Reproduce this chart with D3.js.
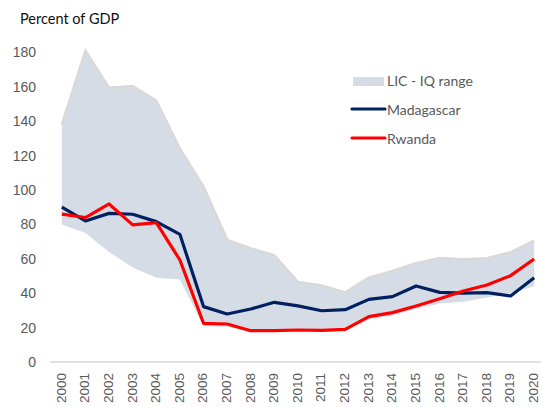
<!DOCTYPE html>
<html>
<head>
<meta charset="utf-8">
<script src="https://cdn.jsdelivr.net/npm/d3@7"></script>
<style>
  body { margin: 0; background: #fff; }
  svg { display: block; font-family: Lato, "Open Sans", sans-serif; }
</style>
</head>
<body>
<div class="chart"></div>
<script>
/* data */
const years = d3.range(2000, 2021).map(String);
const licLow = [80, 75, 64, 55, 49, 48, 21, 20.5, 17.5, 17.5, 18, 18, 18.5, 24.5, 27, 31, 34, 35, 37.5, 40, 44];
const licHigh = [138, 181, 159.5, 160.5, 152, 124, 102, 71, 66, 62, 46.5, 44.5, 40.5, 49, 53, 57.5, 60.5, 59.7, 60.3, 63.8, 70.5];
const madagascar = [90, 82, 86.4, 85.9, 81.6, 74.2, 32.2, 27.9, 30.8, 34.7, 32.6, 29.8, 30.4, 36.4, 38, 44.2, 40.5, 40.1, 40.3, 38.4, 49];
const rwanda = [86, 84, 91.9, 79.7, 81, 59.3, 22.5, 22.1, 18.2, 18.2, 18.6, 18.4, 19, 26.4, 28.7, 32.6, 36.8, 41.3, 44.8, 50.2, 59.9];
const yTicks = [0, 20, 40, 60, 80, 100, 120, 140, 160, 180];

const width = 541, height = 407;
const svg = d3.select(".chart").append("svg")
  .attr("width", width)
  .attr("height", height);

/* scales */
const x = d3.scalePoint().domain(years).range([50, 546]).padding(0.5);
const y = d3.scaleLinear().domain([0, 180]).range([362, 52.4]);

/* IQ range band */
const area = d3.area()
  .x((d, i) => x(years[i]))
  .y0(d => y(d[0]))
  .y1(d => y(d[1]));
const band = licLow.map((v, i) => [v, licHigh[i]]);

svg.append("path")
  .datum(band)
  .attr("d", area)
  .attr("fill", "#d6dce5");

svg.append("path")
  .datum(licHigh)
  .attr("d", d3.line().x((d, i) => x(years[i])).y(d => y(d)))
  .attr("fill", "none")
  .attr("stroke", "#d9d9d9")
  .attr("stroke-width", 2.5);

/* country lines */
const line = d3.line().x((d, i) => x(years[i])).y(d => y(d));
svg.append("path")
  .datum(madagascar)
  .attr("d", line)
  .attr("fill", "none")
  .attr("stroke", "#002060")
  .attr("stroke-width", 3.2)
  .attr("stroke-linejoin", "round");
svg.append("path")
  .datum(rwanda)
  .attr("d", line)
  .attr("fill", "none")
  .attr("stroke", "#ff0000")
  .attr("stroke-width", 3.2)
  .attr("stroke-linejoin", "round");

/* y axis: labels only */
const yAxis = svg.append("g")
  .attr("transform", "translate(36,0)")
  .call(d3.axisLeft(y).tickValues(yTicks).tickSize(0).tickPadding(0));
yAxis.select(".domain").remove();
yAxis.selectAll("text")
  .attr("fill", "#595959")
  .style("font-size", "14px");

/* x axis: baseline and rotated year labels */
const xAxis = svg.append("g")
  .attr("transform", "translate(0,362)")
  .call(d3.axisBottom(x).tickSize(0));
xAxis.select(".domain")
  .attr("stroke", "#d9d9d9")
  .attr("stroke-width", 1.3)
  .attr("d", "M50,0H546");
xAxis.selectAll("text")
  .attr("fill", "#595959")
  .style("font-size", "13.5px")
  .attr("text-anchor", "end")
  .attr("transform", "rotate(-90)")
  .attr("x", -11)
  .attr("y", 0)
  .attr("dy", "0.25em");

/* title */
svg.append("text")
  .attr("x", 20)
  .attr("y", 24)
  .attr("fill", "#111")
  .style("font-size", "14.5px")
  .text("Percent of GDP");

/* legend */
const legend = svg.append("g").attr("transform", "translate(352,0)");
legend.append("rect")
  .attr("x", 1).attr("y", 77).attr("width", 31).attr("height", 9)
  .attr("fill", "#d6dce5");
legend.append("line")
  .attr("x1", 0).attr("x2", 33).attr("y1", 109).attr("y2", 109)
  .attr("stroke", "#002060").attr("stroke-width", 3.2).attr("stroke-linecap", "round");
legend.append("line")
  .attr("x1", 0).attr("x2", 33).attr("y1", 138).attr("y2", 138)
  .attr("stroke", "#ff0000").attr("stroke-width", 3.2).attr("stroke-linecap", "round");
legend.selectAll("text.leg")
  .data([["LIC - IQ range", 81.5], ["Madagascar", 110], ["Rwanda", 139]])
  .join("text")
  .attr("class", "leg")
  .attr("x", 35)
  .attr("y", d => d[1])
  .attr("dy", "0.35em")
  .attr("fill", "#595959")
  .style("font-size", "14px")
  .text(d => d[0]);
</script>
</body>
</html>
